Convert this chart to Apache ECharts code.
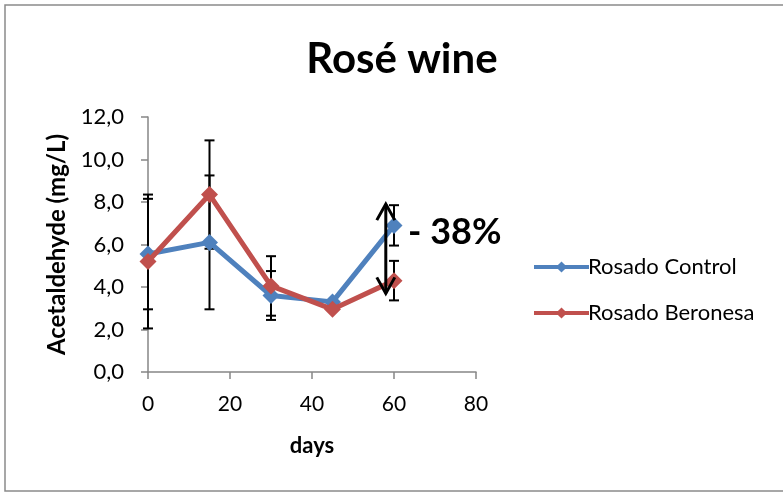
<!DOCTYPE html>
<html>
<head>
<meta charset="utf-8">
<script src="https://cdn.jsdelivr.net/npm/echarts@6/dist/echarts.min.js"></script>
<style>
  html, body { margin: 0; padding: 0; background: #fff; }
  #chart { width: 783px; height: 493px; }
</style>
</head>
<body>
<div id="chart"></div>
<script>
// Sampling days and acetaldehyde levels (mg/L)
const days = [0, 15, 30, 45, 60];
const controlValues = [5.55, 6.1, 3.6, 3.3, 6.9];
const controlErrors = [2.6, 3.15, 1.15, 0, 0.95];
const beronesaValues = [5.2, 8.35, 4.05, 2.95, 4.3];
const beronesaErrors = [3.15, 2.55, 1.4, 0, 0.93];
const seriesNames = ['Rosado Control', 'Rosado Beronesa'];
const xTicks = [0, 20, 40, 60, 80];
const yTicks = [0, 2, 4, 6, 8, 10, 12];
// Double arrow marking the drop at day 60
const arrowDay = 58;
const arrowRange = [7.9, 3.7];
const dropLabel = '- 38%';

const FONT = 'Lato, "Liberation Sans", sans-serif';
const BLUE = '#4F81BD';
const RED = '#C0504D';

const chart = echarts.init(document.getElementById('chart'), null, { renderer: 'canvas' });

function pairs(xs, ys) { return xs.map((x, i) => [x, ys[i]]); }
function errData(xs, ys, es) { return xs.map((x, i) => [x, ys[i] - es[i], ys[i] + es[i], es[i]]); }

function renderErrorBar(params, api) {
  if (api.value(3) <= 0) return null;
  const lo = api.coord([api.value(0), api.value(1)]);
  const hi = api.coord([api.value(0), api.value(2)]);
  const half = 5;
  const style = { stroke: '#000', lineWidth: 2 };
  return {
    type: 'group',
    children: [
      { type: 'line', shape: { x1: lo[0], y1: lo[1], x2: hi[0], y2: hi[1] }, style },
      { type: 'line', shape: { x1: lo[0] - half, y1: lo[1], x2: lo[0] + half, y2: lo[1] }, style },
      { type: 'line', shape: { x1: hi[0] - half, y1: hi[1], x2: hi[0] + half, y2: hi[1] }, style }
    ]
  };
}

function renderArrow(params, api) {
  const top = api.coord([api.value(0), api.value(1)]);
  const bot = api.coord([api.value(0), api.value(2)]);
  const hw = 9, hh = 16;
  const style = { stroke: '#000', lineWidth: 3, fill: null };
  return {
    type: 'group',
    children: [
      { type: 'line', shape: { x1: top[0], y1: top[1], x2: bot[0], y2: bot[1] }, style },
      { type: 'polyline', shape: { points: [[top[0] - hw, top[1] + hh], [top[0], top[1]], [top[0] + hw, top[1] + hh]] }, style },
      { type: 'polyline', shape: { points: [[bot[0] - hw, bot[1] - hh], [bot[0], bot[1]], [bot[0] + hw, bot[1] - hh]] }, style }
    ]
  };
}

const axisColor = '#868686';

chart.setOption({
  animation: false,
  backgroundColor: '#fff',
  title: {
    text: 'Rosé wine',
    left: 397,
    top: 33,
    textAlign: 'center',
    textStyle: { fontFamily: FONT, fontWeight: 'bold', fontSize: 42, color: '#000' }
  },
  graphic: [
    {
      type: 'rect',
      shape: { x: 5, y: 5, width: 800, height: 486 },
      style: { fill: null, stroke: '#8a8a8a', lineWidth: 1.5 },
      silent: true
    },
    {
      type: 'text',
      left: 408,
      top: 214,
      style: { text: dropLabel, fontFamily: FONT, fontWeight: 'bold', fontSize: 36, fill: '#000' }
    }
  ],
  legend: {
    orient: 'vertical',
    left: 527,
    top: 251,
    itemWidth: 55,
    itemHeight: 14,
    itemGap: 24,
    lineStyle: { width: 4 },
    textStyle: { fontFamily: FONT, fontSize: 22, color: '#000', padding: [0, 0, 0, -6] },
    data: seriesNames
  },
  grid: { left: 148, right: 307, top: 117, bottom: 121 },
  xAxis: {
    type: 'value',
    min: xTicks[0],
    max: xTicks[xTicks.length - 1],
    interval: 20,
    name: 'days',
    nameLocation: 'middle',
    nameGap: 63,
    nameTextStyle: { fontFamily: FONT, fontWeight: 'bold', fontSize: 22, color: '#000' },
    axisLine: { show: true, lineStyle: { color: axisColor, width: 1.5 } },
    axisTick: { show: true, length: 7, lineStyle: { color: axisColor, width: 1.5 } },
    axisLabel: { margin: 22, fontFamily: FONT, fontSize: 21, color: '#000' },
    splitLine: { show: false }
  },
  yAxis: {
    type: 'value',
    min: yTicks[0],
    max: yTicks[yTicks.length - 1],
    interval: 2,
    name: 'Acetaldehyde (mg/L)',
    nameLocation: 'middle',
    nameGap: 79,
    nameTextStyle: { fontFamily: FONT, fontWeight: 'bold', fontSize: 24, color: '#000' },
    axisLine: { show: true, lineStyle: { color: axisColor, width: 1.5 } },
    axisTick: { show: true, length: 7, lineStyle: { color: axisColor, width: 1.5 } },
    axisLabel: {
      margin: 24,
      fontFamily: FONT,
      fontSize: 22,
      color: '#000',
      formatter: v => v.toFixed(1).replace('.', ',')
    },
    splitLine: { show: false }
  },
  series: [
    {
      type: 'custom',
      name: 'controlErr',
      renderItem: renderErrorBar,
      data: errData(days, controlValues, controlErrors),
      z: 1,
      silent: true
    },
    {
      type: 'custom',
      name: 'beronesaErr',
      renderItem: renderErrorBar,
      data: errData(days, beronesaValues, beronesaErrors),
      z: 1,
      silent: true
    },
    {
      type: 'line',
      name: seriesNames[0],
      data: pairs(days, controlValues),
      symbol: 'diamond',
      symbolSize: 17,
      color: BLUE,
      lineStyle: { width: 5, color: BLUE },
      itemStyle: { color: BLUE },
      z: 3
    },
    {
      type: 'line',
      name: seriesNames[1],
      data: pairs(days, beronesaValues),
      symbol: 'diamond',
      symbolSize: 17,
      color: RED,
      lineStyle: { width: 5, color: RED },
      itemStyle: { color: RED },
      z: 4
    },
    {
      type: 'custom',
      name: 'dropArrow',
      renderItem: renderArrow,
      data: [[arrowDay, arrowRange[0], arrowRange[1]]],
      z: 6,
      silent: true
    }
  ]
});
</script>
</body>
</html>
